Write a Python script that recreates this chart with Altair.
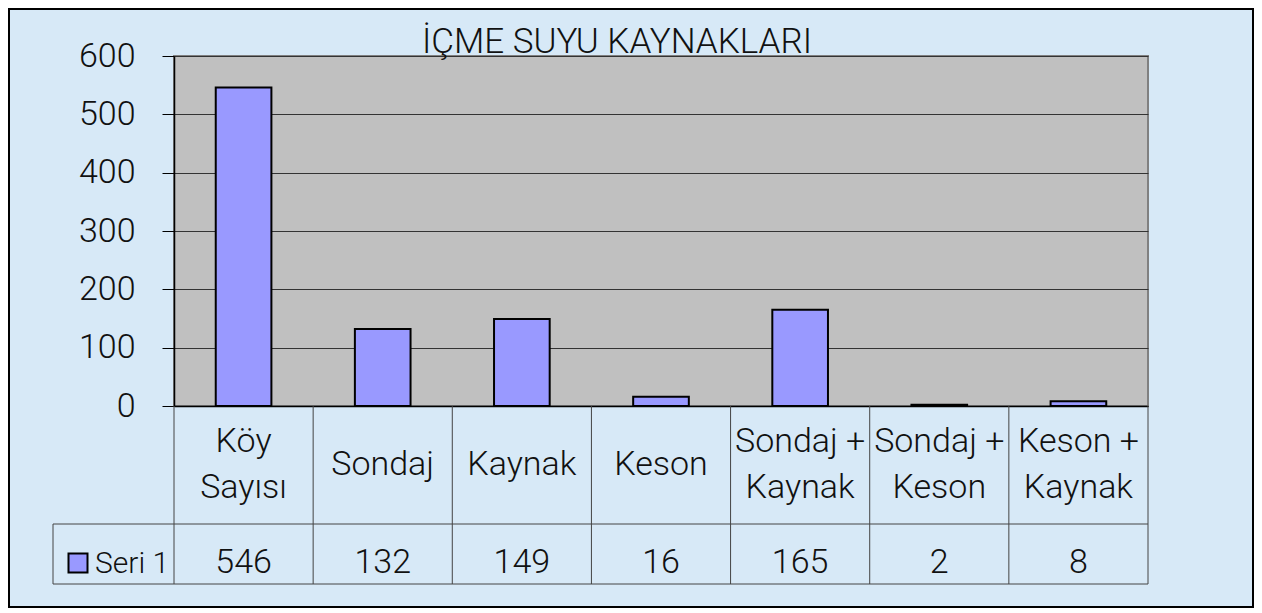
import altair as alt
import pandas as pd

title_text = "İÇME SUYU KAYNAKLARI"
categories = ["Köy Sayısı", "Sondaj", "Kaynak", "Keson", "Sondaj + Kaynak", "Sondaj + Keson", "Keson + Kaynak"]
labels = ["Köy\nSayısı", "Sondaj", "Kaynak", "Keson", "Sondaj +\nKaynak", "Sondaj +\nKeson", "Keson +\nKaynak"]
values = [546, 132, 149, 16, 165, 2, 8]
series_name = "Seri 1"
y_ticks = [0, 100, 200, 300, 400, 500, 600]

df = pd.DataFrame({"cat": categories, "label": labels, "value": values})
one = pd.DataFrame({"series": [series_name], "title": [title_text]})

FONT = "Roboto"
FW = 300
FS = 34
LH = 46
BAR = "#9999FF"
TXT = "#111111"
LINE = "#444444"
W = 974
H = 350
ROW1 = 118
TH = 178
STEP = W / 7.0

xs = alt.Scale(domain=categories, paddingInner=0.6, paddingOuter=0.3)
X = dict(field="cat", type="nominal", scale=xs, sort=categories)

bars = alt.Chart(df).mark_bar(fill=BAR, stroke="black", strokeWidth=2).encode(
    x=alt.X(**X, axis=alt.Axis(labels=False, ticks=False, title=None, domainColor="black", domainWidth=1.5)),
    y=alt.Y("value:Q", scale=alt.Scale(domain=[0, 600], nice=False),
            axis=alt.Axis(values=y_ticks, title=None, tickSize=12, tickColor="black",
                          labelFontSize=FS, labelFont=FONT, labelFontWeight=FW, labelPadding=27,
                          labelColor=TXT, gridColor="#333333",
                          domainColor="black", domainWidth=1.5)),
)

base = alt.Chart(df)
is_multi = "indexof(datum.label, '\\n') >= 0"
cat_text1 = base.transform_filter("!(" + is_multi + ")").mark_text(
    font=FONT, fontSize=FS, fontWeight=FW, baseline="middle", color=TXT).encode(
    x=alt.X(**X, bandPosition=0.5),
    y=alt.value(H + ROW1 / 2),
    text="label:N",
)
cat_text2 = base.transform_filter(is_multi).mark_text(
    font=FONT, fontSize=FS, fontWeight=FW, lineBreak="\n", lineHeight=LH, dy=-LH / 2,
    baseline="middle", color=TXT).encode(
    x=alt.X(**X, bandPosition=0.5),
    y=alt.value(H + ROW1 / 2),
    text="label:N",
)
val_text = base.mark_text(font=FONT, fontSize=FS, fontWeight=FW, baseline="alphabetic", color=TXT).encode(
    x=alt.X(**X, bandPosition=0.5),
    y=alt.value(H + 167),
    text="value:Q",
)
vlines = base.mark_rule(color=LINE, strokeWidth=1, xOffset=-0.3 * STEP).encode(
    x=alt.X(**X, bandPosition=0),
    y=alt.value(H), y2=alt.value(H + TH),
)
deco = alt.Chart(one)
right_line = deco.mark_rule(color=LINE).encode(x=alt.value(W), y=alt.value(H), y2=alt.value(H + TH))
mid_line = deco.mark_rule(color=LINE).encode(x=alt.value(-121), x2=alt.value(W), y=alt.value(H + ROW1))
bot_line = deco.mark_rule(color=LINE).encode(x=alt.value(-121), x2=alt.value(W), y=alt.value(H + TH))
left_line = deco.mark_rule(color=LINE).encode(x=alt.value(-121), y=alt.value(H + ROW1), y2=alt.value(H + TH))
swatch = deco.mark_square(fill=BAR, stroke="black", strokeWidth=2, opacity=1, size=361).encode(
    x=alt.value(-96), y=alt.value(H + 157))
leg_text = deco.mark_text(font=FONT, fontSize=30, fontWeight=FW, baseline="alphabetic", align="left",
                          color=TXT).encode(x=alt.value(-79), y=alt.value(H + 167), text="series:N")
title = deco.mark_text(font=FONT, fontSize=35, fontWeight=FW, baseline="alphabetic", align="center",
                       color=TXT).encode(x=alt.value(443), y=alt.value(-3), text="title:N")
frame = deco.mark_rect(fill="transparent", stroke="black", strokeWidth=2).encode(
    x=alt.value(-165), x2=alt.value(1079), y=alt.value(-47), y2=alt.value(551))

chart = alt.layer(
    frame, bars, vlines, right_line, mid_line, bot_line, left_line,
    cat_text1, cat_text2, val_text, swatch, leg_text, title,
).properties(
    width=W, height=H,
    padding=0,
    view=alt.ViewBackground(fill="#C0C0C0", stroke="#808080", strokeWidth=2),
).configure(background="#D7E9F7")

chart.save("out.html", embed_options={"renderer": "svg", "actions": False})
